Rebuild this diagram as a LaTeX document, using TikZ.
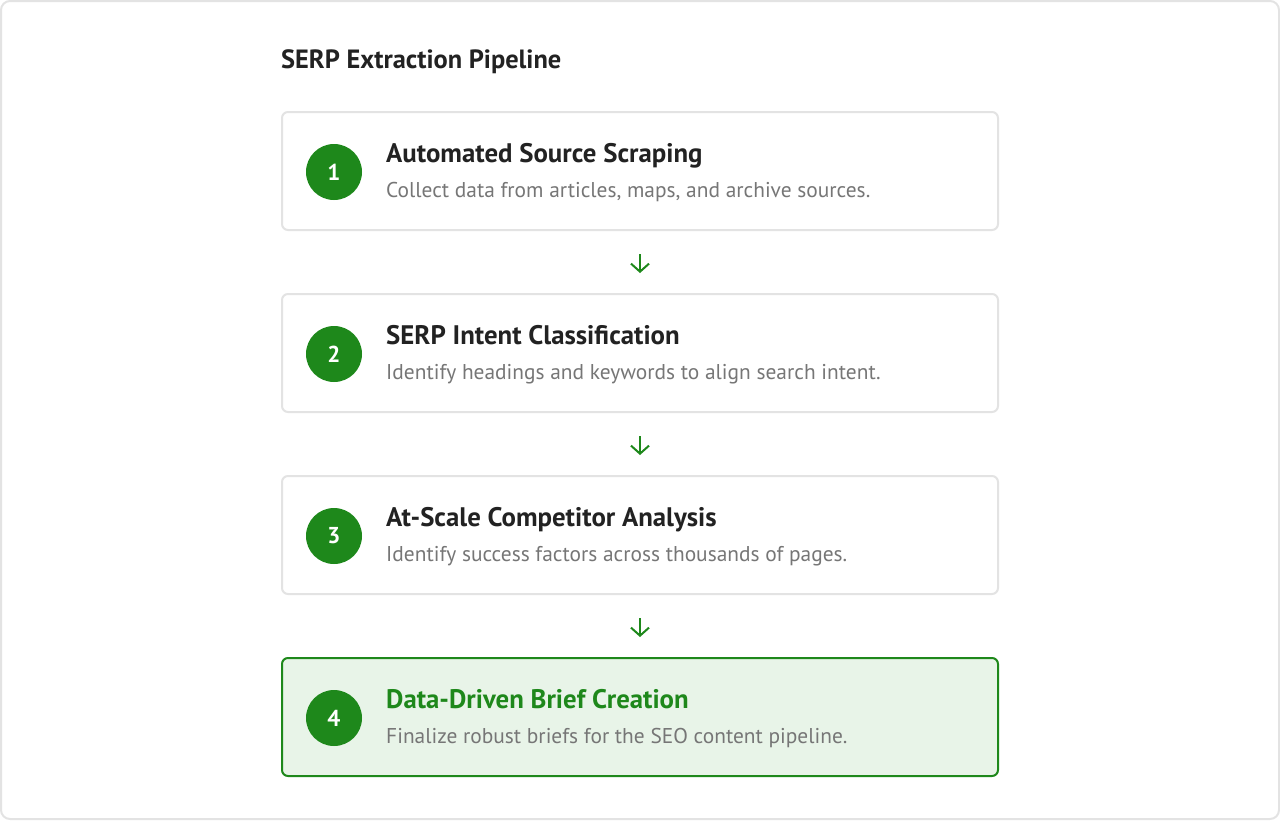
\documentclass[tikz,border=0pt]{standalone}
\usepackage{fontspec}
\setmainfont{PT Sans}
\usetikzlibrary{arrows.meta}
\definecolor{gr}{HTML}{1E881B}
\definecolor{lightgr}{HTML}{E8F4E8}
\definecolor{bordergray}{HTML}{E3E3E3}
\definecolor{titlec}{HTML}{222222}
\definecolor{subc}{HTML}{767676}
\tikzset{
  x=1pt, y=-1pt,
  card/.style={draw=bordergray, line width=2pt, rounded corners=6pt, fill=white, minimum width=716pt, minimum height=118pt, anchor=north west, inner sep=0pt},
  lastcard/.style={card, draw=gr, fill=lightgr},
  badge/.style={circle, fill=gr, minimum size=56pt, inner sep=0pt, text=white, font=\bfseries\fontsize{23}{26}\selectfont},
  heading/.style={anchor=base west, inner sep=0pt, text=titlec, font=\bfseries\fontsize{26.8}{30}\selectfont},
  sub/.style={anchor=base west, inner sep=0pt, text=subc, font=\fontsize{21.4}{25}\selectfont},
  flow/.style={draw=gr, line width=2pt, -{Straight Barb[length=8pt,width=18pt,line width=2pt]}, shorten <=23pt, shorten >=20pt},
}
\begin{document}
\begin{tikzpicture}
\useasboundingbox (0,0) rectangle (1280,820);
\draw[bordergray, line width=2pt, rounded corners=9pt, fill=white] (1,1) rectangle (1279,819);
\node[anchor=base west, inner sep=0pt, text=titlec, font=\bfseries\fontsize{26.4}{30}\selectfont] (title) at (281,68) {SERP Extraction Pipeline};

\node[card] (c1) at (281,111) {};
\node[card] (c2) at (281,293) {};
\node[card] (c3) at (281,475) {};
\node[lastcard] (c4) at (281,657) {};

\node[badge] (b1) at (334,172) {1};
\node[badge] (b2) at (334,354) {2};
\node[badge] (b3) at (334,536) {3};
\node[badge] (b4) at (334,718) {4};

\node[heading] (h1) at (386,162) {Automated Source Scraping};
\node[sub] (s1) at (386,197.5) {Collect data from articles, maps, and archive sources.};
\node[heading] (h2) at (386,344) {SERP Intent Classification};
\node[sub] (s2) at (386,379.5) {Identify headings and keywords to align search intent.};
\node[heading] (h3) at (386,526) {At-Scale Competitor Analysis};
\node[sub] (s3) at (386,561.5) {Identify success factors across thousands of pages.};
\node[heading, text=gr] (h4) at (386,708) {Data-Driven Brief Creation};
\node[sub] (s4) at (386,743.5) {Finalize robust briefs for the SEO content pipeline.};

\draw[flow] (c1.south) -- (c2.north);
\draw[flow] (c2.south) -- (c3.north);
\draw[flow] (c3.south) -- (c4.north);
\end{tikzpicture}
\end{document}
